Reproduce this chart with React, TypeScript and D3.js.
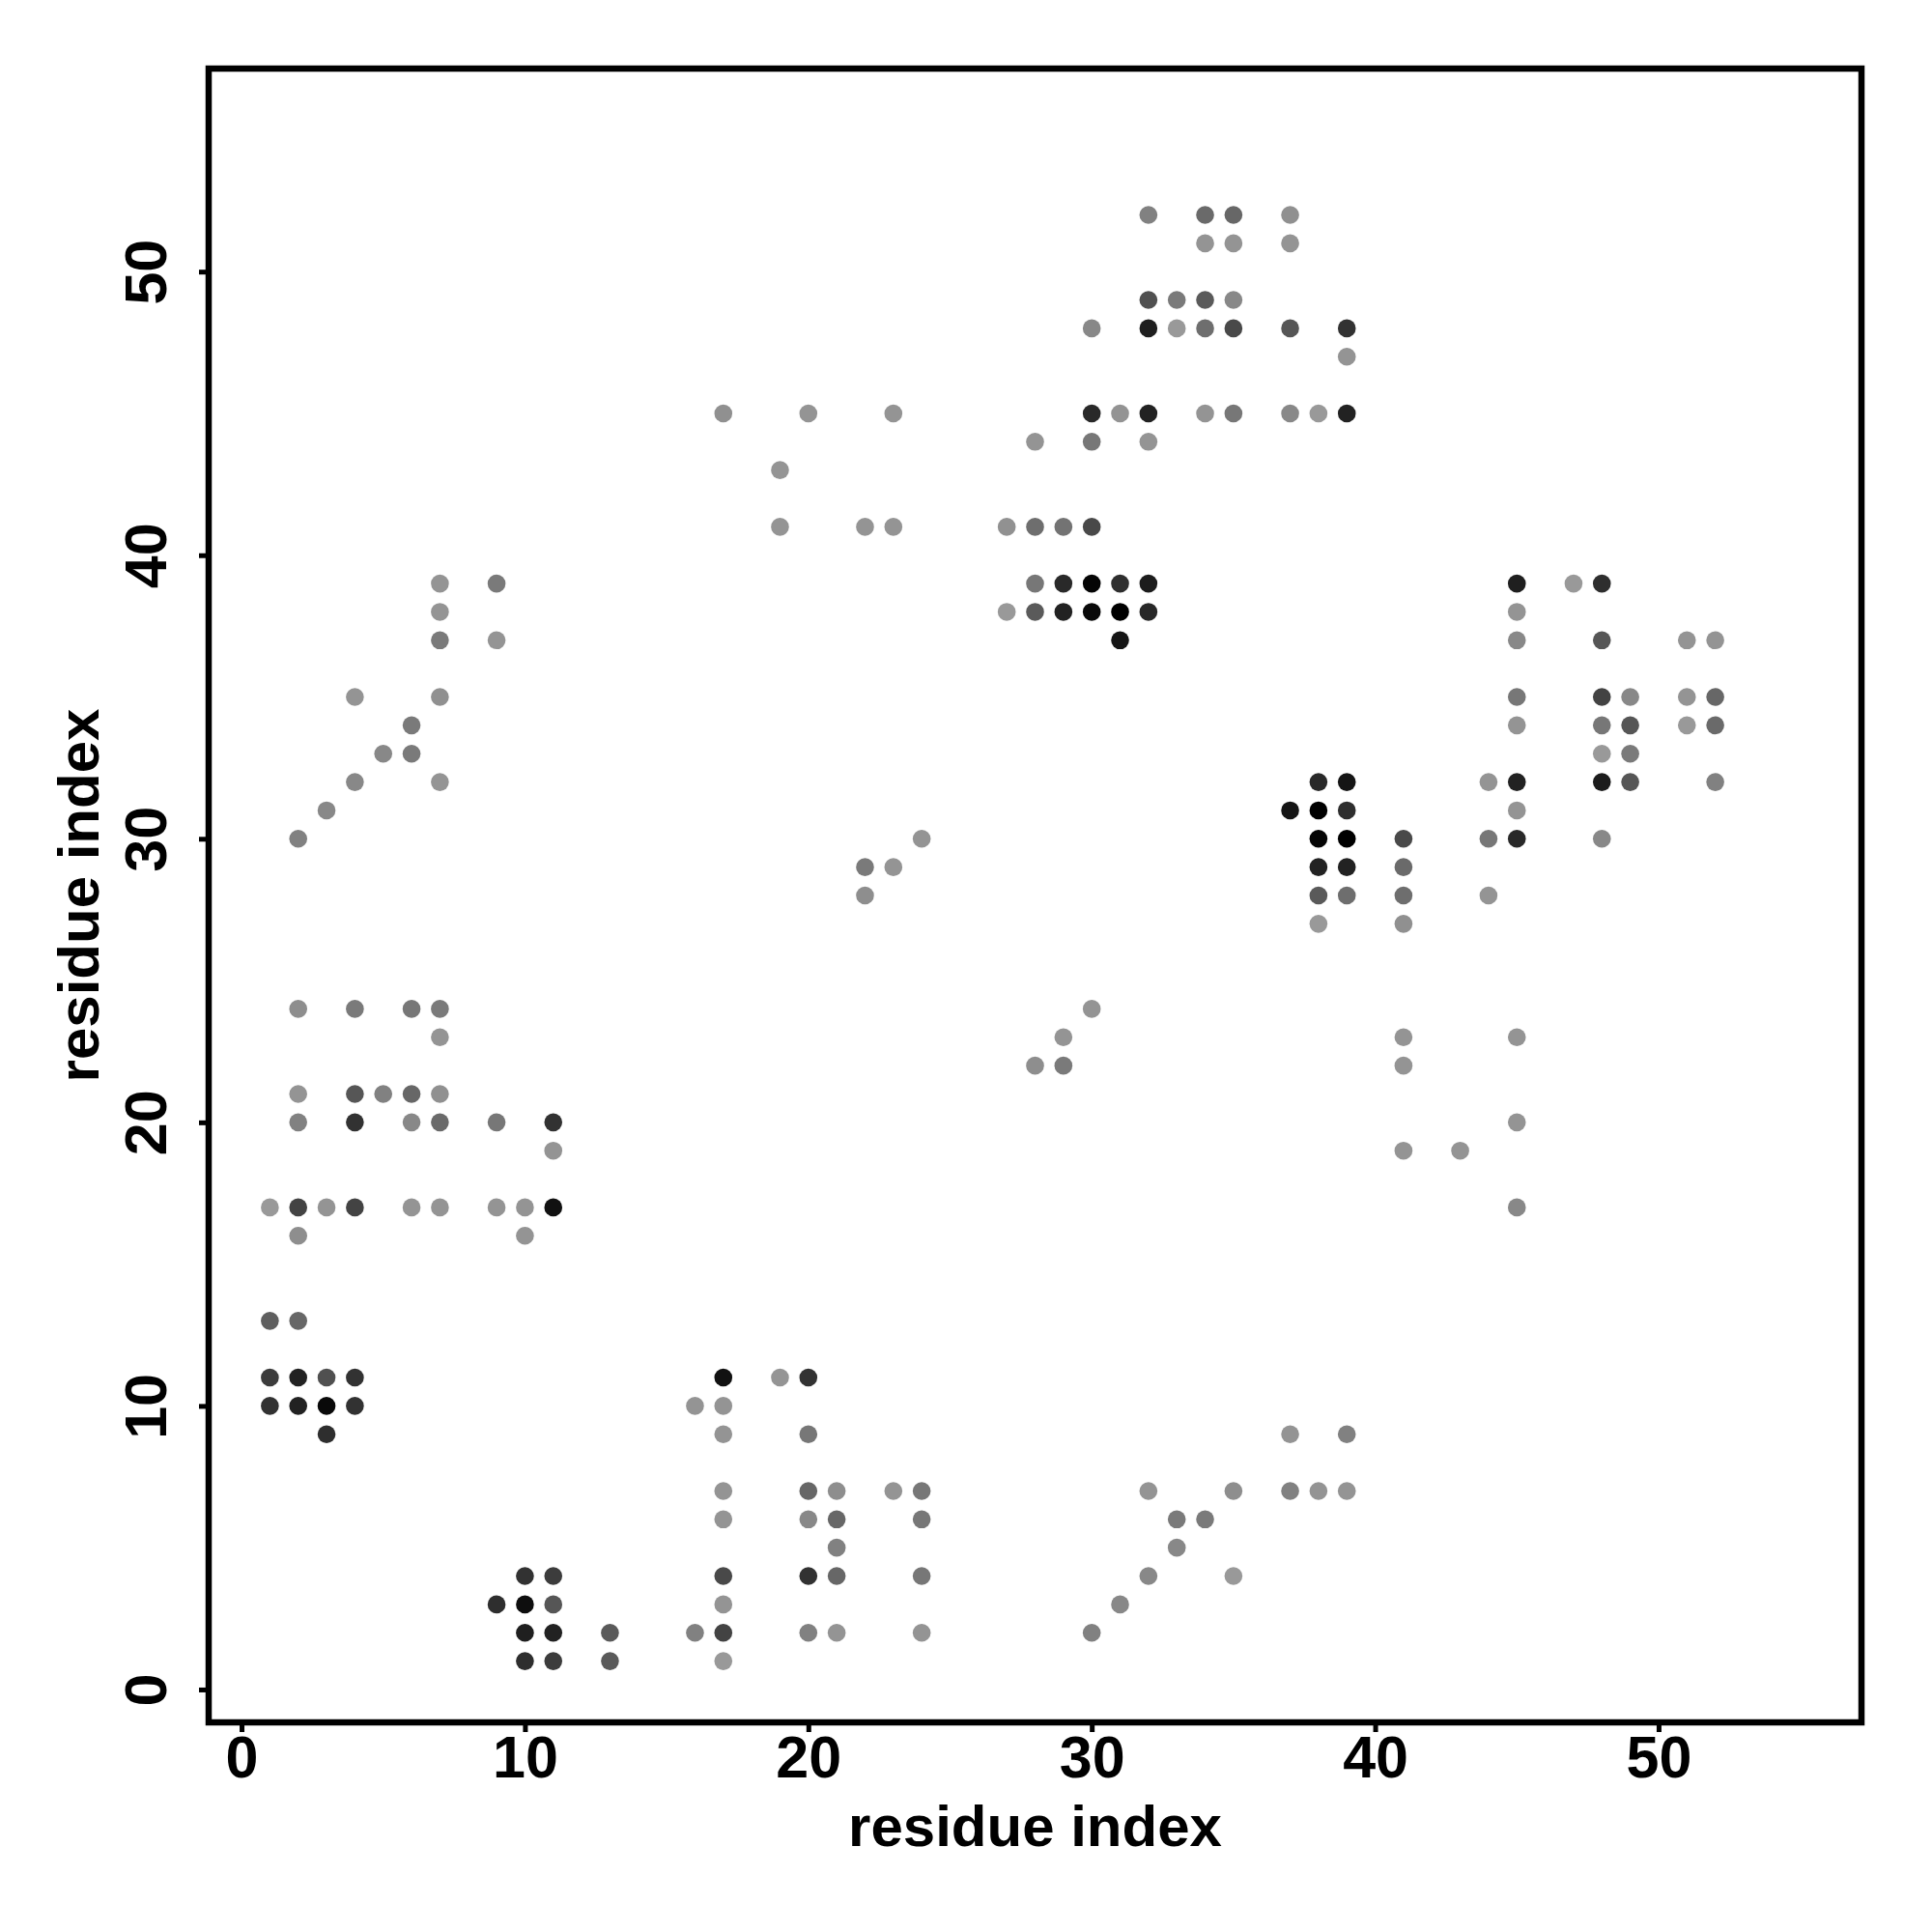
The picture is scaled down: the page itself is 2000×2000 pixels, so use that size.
import { useEffect, useRef } from "react";
import * as d3 from "d3";

// contacts as [residue i, residue j, probability]
const diagLowLeft = [
  [1, 13, 0.38], [2, 13, 0.33],
  [1, 11, 0.61], [2, 11, 0.78], [3, 11, 0.48], [4, 11, 0.67],
  [1, 10, 0.67], [2, 10, 0.78], [3, 10, 0.94], [4, 10, 0.67],
  [3, 9, 0.7],
];

const leftMid = [
  [1, 17, 0.0], [2, 17, 0.56], [3, 17, 0.03], [4, 17, 0.56], [6, 17, 0.03], [7, 17, 0.03],
  [9, 17, 0.03], [10, 17, 0.03], [11, 17, 0.89],
  [2, 16, 0.07], [10, 16, 0.03],
  [2, 20, 0.16], [4, 20, 0.67], [6, 20, 0.11], [7, 20, 0.31], [9, 20, 0.22], [11, 20, 0.67],
  [11, 19, 0.03],
  [2, 21, 0.03], [4, 21, 0.44], [5, 21, 0.16], [6, 21, 0.33], [7, 21, 0.06],
  [7, 23, 0.03],
  [2, 24, 0.07], [4, 24, 0.2], [6, 24, 0.22], [7, 24, 0.2],
];

const leftHigh = [
  [2, 30, 0.16], [3, 31, 0.11], [4, 32, 0.11], [7, 32, 0.03], [5, 33, 0.11], [6, 33, 0.2],
  [6, 34, 0.2], [4, 35, 0.03], [7, 35, 0.06], [7, 37, 0.2], [9, 37, 0.03], [7, 38, 0.03],
  [7, 39, 0.03], [9, 39, 0.2],
];

const bottomA = [
  [9, 3, 0.7], [10, 4, 0.67], [11, 4, 0.61], [10, 3, 0.91], [11, 3, 0.44],
  [10, 2, 0.8], [11, 2, 0.78], [13, 2, 0.41], [10, 1, 0.7], [11, 1, 0.61], [13, 1, 0.41],
];

const bottomB = [
  [16, 10, 0.03], [17, 11, 0.89], [17, 10, 0.03], [17, 9, 0.03], [17, 7, 0.03], [17, 6, 0.03],
  [17, 4, 0.52], [17, 3, 0.03], [17, 2, 0.56], [17, 1, 0.0], [16, 2, 0.16],
  [19, 11, 0.03], [20, 11, 0.67], [20, 9, 0.22], [20, 7, 0.33], [20, 6, 0.11], [20, 4, 0.67], [20, 2, 0.16],
  [21, 7, 0.07], [21, 6, 0.33], [21, 5, 0.16], [21, 4, 0.33], [21, 2, 0.03],
  [23, 7, 0.03], [24, 7, 0.22], [24, 6, 0.22], [24, 4, 0.22], [24, 2, 0.03],
];

const bottomC = [
  [30, 2, 0.16], [31, 3, 0.11], [32, 4, 0.11], [33, 5, 0.11], [33, 6, 0.2], [34, 6, 0.2],
  [35, 4, 0.0], [32, 7, 0.03], [35, 7, 0.07], [37, 7, 0.16], [38, 7, 0.03], [39, 7, 0.03],
  [37, 9, 0.03], [39, 9, 0.16],
];

const middleUpper = [
  [17, 45, 0.06], [20, 45, 0.03], [23, 45, 0.03], [19, 43, 0.03], [19, 41, 0.03], [22, 41, 0.03],
  [23, 41, 0.03],
  [22, 29, 0.2], [23, 29, 0.03], [24, 30, 0.03], [22, 28, 0.07],
  [28, 22, 0.07], [29, 22, 0.2], [29, 23, 0.03], [30, 24, 0.03],
];

const hairpin = [
  [27, 41, 0.05], [28, 41, 0.28], [29, 41, 0.25], [30, 41, 0.52],
  [28, 39, 0.22], [29, 39, 0.73], [30, 39, 0.97], [31, 39, 0.7], [32, 39, 0.82],
  [27, 38, 0.0], [28, 38, 0.41], [29, 38, 0.78], [30, 38, 0.94], [31, 38, 1.0], [32, 38, 0.74],
  [31, 37, 0.86],
];

const topCluster = [
  [28, 44, 0.03], [30, 44, 0.22], [32, 44, 0.03],
  [30, 45, 0.73], [31, 45, 0.04], [32, 45, 0.78], [34, 45, 0.03], [35, 45, 0.22], [37, 45, 0.11],
  [38, 45, 0.0], [39, 45, 0.78],
  [39, 47, 0.03],
  [30, 48, 0.11], [32, 48, 0.8], [33, 48, 0.0], [34, 48, 0.28], [35, 48, 0.52], [37, 48, 0.44], [39, 48, 0.67],
  [32, 49, 0.48], [33, 49, 0.2], [34, 49, 0.41], [35, 49, 0.11],
  [34, 51, 0.03], [35, 51, 0.03], [37, 51, 0.03],
  [32, 52, 0.16], [34, 52, 0.31], [35, 52, 0.33], [37, 52, 0.06],
];

const rightMid = [
  [38, 32, 0.73], [39, 32, 0.86],
  [37, 31, 0.86], [38, 31, 1.0], [39, 31, 0.7],
  [38, 30, 0.97], [39, 30, 1.0], [41, 30, 0.52],
  [38, 29, 0.78], [39, 29, 0.78], [41, 29, 0.31],
  [38, 28, 0.41], [39, 28, 0.28], [41, 28, 0.28],
  [38, 27, 0.0], [41, 27, 0.06],
  [41, 23, 0.03], [41, 22, 0.03], [41, 19, 0.03], [43, 19, 0.03], [45, 23, 0.03], [45, 20, 0.03],
  [45, 17, 0.11],
];

const rightHigh = [
  [44, 32, 0.03], [44, 30, 0.22], [44, 28, 0.03],
  [45, 39, 0.8], [45, 38, 0.03], [45, 37, 0.11], [45, 35, 0.22], [45, 34, 0.03], [45, 32, 0.78],
  [45, 31, 0.03], [45, 30, 0.73],
  [47, 39, 0.0], [48, 39, 0.7], [48, 37, 0.44], [48, 35, 0.56], [48, 34, 0.22], [48, 33, 0.0],
  [48, 32, 0.82], [48, 30, 0.11],
  [49, 35, 0.11], [49, 34, 0.44], [49, 33, 0.2], [49, 32, 0.44],
  [51, 37, 0.03], [52, 37, 0.03], [51, 35, 0.03], [52, 35, 0.33], [51, 34, 0.0], [52, 34, 0.31],
  [52, 32, 0.16],
];

const tickValues = [0, 10, 20, 30, 40, 50];
const axisLabel = "residue index";

const App = () => {
  const ref = useRef(null);

  useEffect(() => {
    document.body.style.margin = "0";
    const svg = d3.select(ref.current);
    svg.selectAll("*").remove();

    const left = 216, right = 1927, top = 71, bottom = 1783;
    const font = "'Liberation Sans', Arial, Helvetica, sans-serif";

    const x = d3.scaleLinear().domain([-1.16, 57.16]).range([left, right]);
    const y = d3.scaleLinear().domain([-1.16, 57.16]).range([bottom, top]);
    const gray = d3.scaleLinear<string>().domain([0, 1]).range(["#999999", "#000000"]);

    const contacts = [
      ...diagLowLeft, ...leftMid, ...leftHigh, ...bottomA, ...bottomB, ...bottomC,
      ...middleUpper, ...hairpin, ...topCluster, ...rightMid, ...rightHigh,
    ];

    svg.append("g")
      .selectAll("circle")
      .data(contacts)
      .join("circle")
      .attr("cx", (d) => x(d[0]))
      .attr("cy", (d) => y(d[1]))
      .attr("r", 9.3)
      .attr("fill", (d) => gray(d[2]));

    // x axis
    const gx = svg.append("g")
      .attr("transform", `translate(0,${bottom})`)
      .call(d3.axisBottom(x).tickValues(tickValues).tickSize(10).tickSizeOuter(0));
    gx.select(".domain").remove();
    gx.selectAll("line").attr("stroke", "#000").attr("stroke-width", 5);
    gx.selectAll("text")
      .attr("y", 57).attr("dy", null)
      .attr("fill", "#000")
      .style("font-family", font).style("font-weight", "bold").style("font-size", "61px");

    // y axis
    const gy = svg.append("g")
      .attr("transform", `translate(${left},0)`)
      .call(d3.axisLeft(y).tickValues(tickValues).tickSize(10).tickSizeOuter(0));
    gy.select(".domain").remove();
    gy.selectAll("line").attr("stroke", "#000").attr("stroke-width", 5);
    gy.selectAll("text")
      .attr("x", 0).attr("dy", null)
      .attr("transform", "translate(-44,0) rotate(-90)")
      .attr("text-anchor", "middle")
      .attr("fill", "#000")
      .style("font-family", font).style("font-weight", "bold").style("font-size", "61px");

    // box
    svg.append("rect")
      .attr("x", left).attr("y", top)
      .attr("width", right - left).attr("height", bottom - top)
      .attr("fill", "none").attr("stroke", "#000").attr("stroke-width", 6.5);

    svg.append("text")
      .attr("x", (left + right) / 2).attr("y", 1911)
      .attr("text-anchor", "middle")
      .style("font-family", font).style("font-weight", "bold").style("font-size", "60px")
      .text(axisLabel);

    svg.append("text")
      .attr("transform", `translate(102,${(top + bottom) / 2}) rotate(-90)`)
      .attr("text-anchor", "middle")
      .style("font-family", font).style("font-weight", "bold").style("font-size", "60px")
      .text(axisLabel);
  }, []);

  return <svg ref={ref} width={2000} height={2000} style={{ display: "block", background: "#fff" }}></svg>;
};

export default App;
